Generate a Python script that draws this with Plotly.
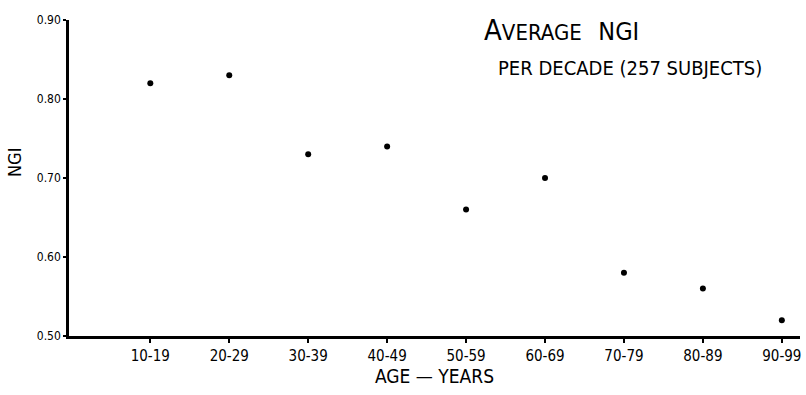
import plotly.graph_objects as go

age_groups = ["10-19", "20-29", "30-39", "40-49", "50-59", "60-69", "70-79", "80-89", "90-99"]
avg_ngi = [0.82, 0.83, 0.73, 0.74, 0.66, 0.70, 0.58, 0.56, 0.52]
y_ticks = [0.50, 0.60, 0.70, 0.80, 0.90]
y_tick_text = ["0.50", "0.60", "0.70", "0.80", "0.90"]

FONT = "DejaVu Sans Condensed"

fig = go.Figure()
fig.add_trace(go.Scatter(
    x=list(range(len(age_groups))), y=avg_ngi, mode="markers",
    marker=dict(color="black", size=6), showlegend=False,
))

fig.update_layout(
    width=806, height=395,
    margin=dict(l=69, r=6, t=20, b=59),
    paper_bgcolor="white", plot_bgcolor="white",
    font=dict(family=FONT, color="black"),
    xaxis=dict(
        range=[-1.03, 8.23], tickmode="array",
        tickvals=list(range(len(age_groups))), ticktext=age_groups,
        showgrid=False, zeroline=False, showline=True, linecolor="black", linewidth=2.5,
        ticks="outside", ticklen=4, tickwidth=1.5, tickcolor="black",
        tickfont=dict(size=15, family=FONT),
        title=dict(text="AGE — YEARS", font=dict(size=19, family=FONT), standoff=6),
    ),
    yaxis=dict(
        range=[0.5, 0.9], tickmode="array", tickvals=y_ticks, ticktext=y_tick_text,
        showgrid=False, zeroline=False, showline=True, linecolor="black", linewidth=2.5,
        ticks="outside", ticklen=3, tickwidth=1.5, tickcolor="black",
        tickfont=dict(size=12, family=FONT),
    ),
)

fig.add_annotation(
    xref="paper", yref="paper", x=(14 - 69) / 731, y=(336 - 163) / 316,
    text="NGI", textangle=-90,
    showarrow=False, font=dict(size=18, family=FONT), xanchor="center", yanchor="middle",
)
fig.add_annotation(
    xref="paper", yref="paper", x=(561 - 69) / 731, y=(336 - 30) / 316,
    text="A<span style='font-size:22px'>VERAGE</span>  <span style='font-size:25px'>NGI</span>",
    showarrow=False, font=dict(size=29, family=FONT), xanchor="center", yanchor="middle",
)
fig.add_annotation(
    xref="paper", yref="paper", x=(630 - 69) / 731, y=(336 - 68) / 316,
    text="PER DECADE (257 SUBJECTS)",
    showarrow=False, font=dict(size=20, family=FONT), xanchor="center", yanchor="middle",
)

fig.write_html("out.html")
